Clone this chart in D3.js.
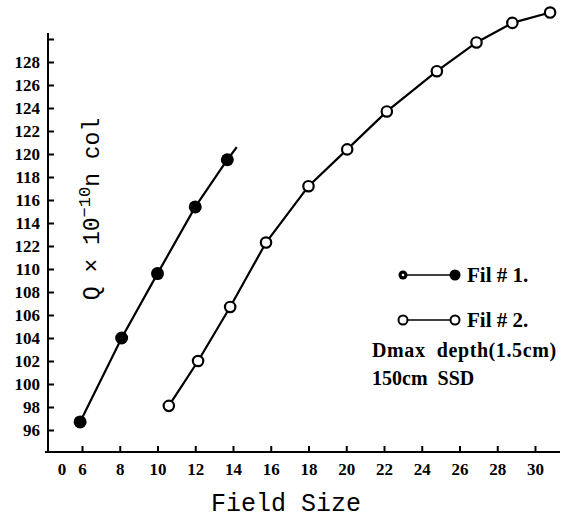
<!DOCTYPE html>
<html>
<head>
<meta charset="utf-8">
<script src="https://d3js.org/d3.v7.min.js"></script>
<style>
  body { margin: 0; background: #fff; }
  svg { display: block; }
  .tick text { font-family: "Liberation Serif", serif; font-weight: bold; font-size: 17px; fill: #000; }
  .tick line { stroke: #000; stroke-width: 2px; }
  .lbl { font-family: "Liberation Serif", serif; font-weight: bold; fill: #000; white-space: pre; }
  .mono { font-family: "Liberation Mono", "DejaVu Sans Mono", monospace; fill: #000; }
</style>
</head>
<body>
<svg id="chart" width="576" height="518"></svg>
<script>
  // Field size (x) and Q values (y)
  const fil1X = [5.9, 8.1, 10.0, 12.0, 13.7];
  const fil1Y = [96.7, 104.0, 109.6, 115.4, 119.5];
  // the Fil#1 line runs a little past its last point
  const fil1LineEnd = [14.2, 120.6];

  const fil2X = [10.6, 12.15, 13.85, 15.75, 18.0, 20.05, 22.15, 24.8, 26.9, 28.8, 30.8];
  const fil2Y = [98.1, 102.0, 106.7, 112.3, 117.2, 120.4, 123.7, 127.2, 129.7, 131.4, 132.3];

  // tick values and the labels printed on the original (with its typos)
  const xTicks = [6, 8, 10, 12, 14, 16, 18, 20, 22, 24, 26, 28, 30];
  const yTicks = [96, 98, 100, 102, 104, 106, 108, 110, 112, 114, 116, 118, 120, 122, 124, 126, 128, 130];
  const yTickLabels = ["96", "98", "100", "102", "104", "106", "108", "110", "122", "114", "116", "118", "120", "122", "124", "126", "128", ""];

  const svg = d3.select("#chart");

  const x = d3.scaleLinear().domain([6, 30]).range([82, 535]);
  const y = d3.scaleLinear().domain([96, 128]).range([430, 62]);

  const axisY = 452, axisX = 48;

  // x axis
  const gx = svg.append("g")
    .attr("transform", `translate(0,${axisY})`)
    .call(d3.axisBottom(x).tickValues(xTicks).tickSize(-6).tickPadding(11).tickFormat(d3.format("d")));
  gx.select(".domain").remove();

  // y axis
  const gy = svg.append("g")
    .attr("transform", `translate(${axisX},0)`)
    .call(d3.axisLeft(y).tickValues(yTicks).tickSize(-6).tickPadding(8)
      .tickFormat((d, i) => yTickLabels[i]));
  gy.select(".domain").remove();

  svg.append("line")
    .attr("x1", 45).attr("x2", 560).attr("y1", axisY).attr("y2", axisY)
    .attr("stroke", "#000").attr("stroke-width", 2);
  svg.append("line")
    .attr("x1", axisX).attr("x2", axisX).attr("y1", 33).attr("y2", axisY + 1)
    .attr("stroke", "#000").attr("stroke-width", 2);

  // origin "0"
  svg.append("text").attr("class", "lbl")
    .attr("x", 62).attr("y", axisY + 11).attr("dy", "0.71em")
    .attr("text-anchor", "middle").attr("font-size", 17).text("0");

  // axis titles
  svg.append("text").attr("class", "mono")
    .attr("x", 286).attr("y", 511).attr("text-anchor", "middle")
    .attr("font-size", 25).text("Field Size");

  const yt = svg.append("text").attr("class", "mono")
    .attr("transform", "translate(99,209) rotate(-90)")
    .attr("text-anchor", "middle").attr("font-size", 23);
  yt.append("tspan").text("Q × 10");
  yt.append("tspan").attr("dy", -9).attr("font-size", 17).text("−10");
  yt.append("tspan").attr("dy", 9).text("n col");

  // series lines
  const line = d3.line().x(d => x(d[0])).y(d => y(d[1]));
  const pts1 = fil1X.map((v, i) => [v, fil1Y[i]]);
  const pts2 = fil2X.map((v, i) => [v, fil2Y[i]]);

  svg.append("path").datum(pts1.concat([fil1LineEnd]))
    .attr("d", line).attr("fill", "none").attr("stroke", "#000").attr("stroke-width", 2.2);
  svg.append("path").datum(pts2)
    .attr("d", line).attr("fill", "none").attr("stroke", "#000").attr("stroke-width", 2.2);

  svg.append("g").selectAll("circle").data(pts1).enter().append("circle")
    .attr("cx", d => x(d[0])).attr("cy", d => y(d[1])).attr("r", 6.5)
    .attr("fill", "#000");
  svg.append("g").selectAll("circle").data(pts2).enter().append("circle")
    .attr("cx", d => x(d[0])).attr("cy", d => y(d[1])).attr("r", 5.2)
    .attr("fill", "#fff").attr("stroke", "#000").attr("stroke-width", 2.2);

  // legend
  const lg = svg.append("g");
  lg.append("line").attr("x1", 403).attr("x2", 455).attr("y1", 275).attr("y2", 275)
    .attr("stroke", "#000").attr("stroke-width", 1.5);
  lg.append("circle").attr("cx", 403).attr("cy", 275).attr("r", 4.5).attr("fill", "#000");
  lg.append("circle").attr("cx", 403).attr("cy", 275).attr("r", 1.3).attr("fill", "#fff");
  lg.append("circle").attr("cx", 455).attr("cy", 275).attr("r", 5.5).attr("fill", "#000");
  lg.append("text").attr("class", "lbl").attr("x", 467).attr("y", 282)
    .attr("font-size", 21).text("Fil # 1.");

  lg.append("line").attr("x1", 403).attr("x2", 455).attr("y1", 320).attr("y2", 320)
    .attr("stroke", "#000").attr("stroke-width", 1.5);
  lg.selectAll(".o").data([403, 455]).enter().append("circle")
    .attr("cx", d => d).attr("cy", 320).attr("r", 4.5)
    .attr("fill", "#fff").attr("stroke", "#000").attr("stroke-width", 2);
  lg.append("text").attr("class", "lbl").attr("x", 467).attr("y", 327)
    .attr("font-size", 21).text("Fil # 2.");

  lg.append("text").attr("class", "lbl").attr("x", 372).attr("y", 357)
    .attr("font-size", 20).attr("letter-spacing", 0.6).text("Dmax  depth(1.5cm)");
  lg.append("text").attr("class", "lbl").attr("x", 372).attr("y", 385)
    .attr("font-size", 20).text("150cm  SSD");
</script>
</body>
</html>
